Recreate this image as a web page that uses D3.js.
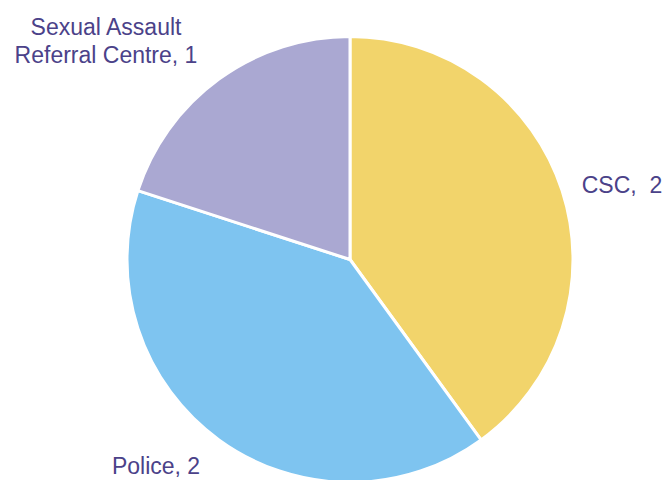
<!DOCTYPE html>
<html>
<head>
<meta charset="utf-8">
<script src="https://cdn.jsdelivr.net/npm/d3@7"></script>
<style>
  body { margin: 0; background: #fff; }
  svg { display: block; }
</style>
</head>
<body>
<script>
const categories = ["CSC", "Police", "Sexual Assault Referral Centre"];
const values = [2, 2, 1];
const colors = ["#F2D46B", "#7EC4F0", "#AAA8D2"];

const width = 664, height = 480;
const cx = 350, cy = 259.5, radius = 223;

// label placement (layout only): x, baseline y, lines
const labelLayout = [
    { x: 622, y: 193, lines: ["CSC,\u00a0 2"] },
    { x: 156, y: 474, lines: ["Police,\u00a02"] },
    { x: 106, y: 35, lines: ["Sexual Assault", "Referral Centre, 1"] }
];

const svg = d3.select("body")
    .append("svg")
    .attr("width", width)
    .attr("height", height);

const pie = d3.pie().sort(null).value(d => d);
const arc = d3.arc().innerRadius(0).outerRadius(radius);

const g = svg.append("g")
    .attr("transform", "translate(" + cx + "," + cy + ")");

g.selectAll("path")
    .data(pie(values))
    .join("path")
    .attr("d", arc)
    .attr("fill", (d, i) => colors[i])
    .attr("stroke", "#fff")
    .attr("stroke-width", 3)
    .attr("stroke-linejoin", "round");

// labels
const labels = svg.append("g")
    .attr("font-family", "'Liberation Sans', Arial, sans-serif")
    .attr("font-size", "23px")
    .attr("fill", "#4B4289")
    .attr("text-anchor", "middle");

labels.selectAll("text")
    .data(categories)
    .join("text")
    .attr("x", (d, i) => labelLayout[i].x)
    .attr("y", (d, i) => labelLayout[i].y)
    .each(function (d, i) {
        const t = d3.select(this);
        labelLayout[i].lines.forEach((line, j) => {
            t.append("tspan")
                .attr("x", labelLayout[i].x)
                .attr("dy", j === 0 ? 0 : 28)
                .text(line);
        });
    });
</script>
</body>
</html>
